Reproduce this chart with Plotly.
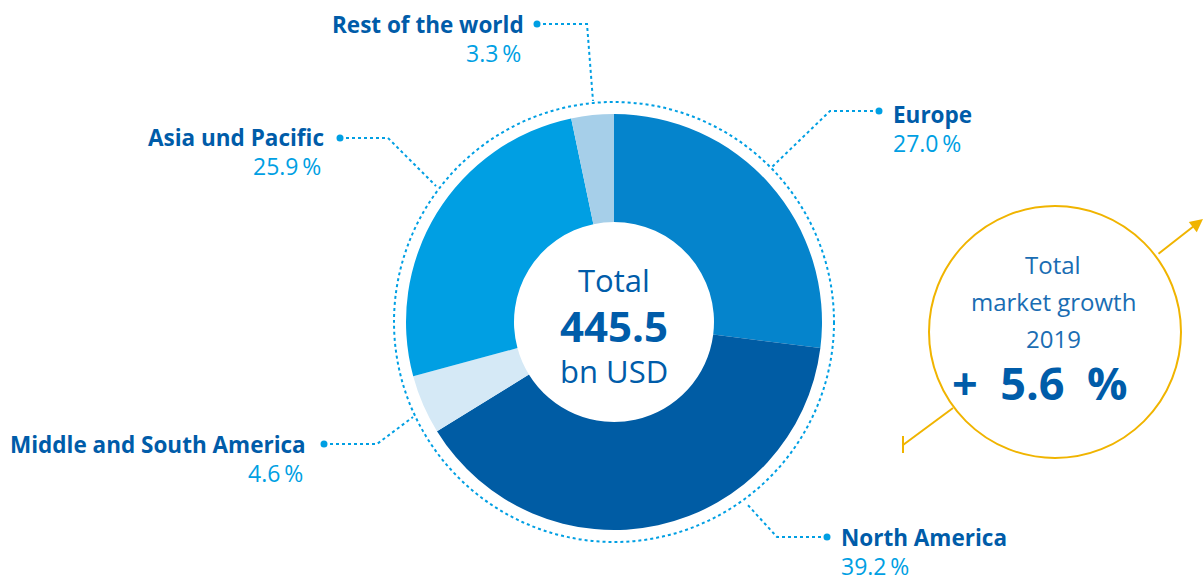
import plotly.graph_objects as go

# market shares by region, clockwise from 12 o'clock
regions = ["Europe", "North America", "Middle and South America", "Asia und Pacific", "Rest of the world"]
shares = [27.0, 39.2, 4.6, 25.9, 3.3]
colors = ["#0584cc", "#005ca4", "#d5e9f6", "#009fe3", "#a6cfe9"]

total_value = "445.5"
growth_year = "2019"
growth_value = "+\u20025.6\u2002%"

W, H = 1204, 581
cx, cy, r_out = 614, 322, 208

DARK = "#005ca9"
LIGHT = "#009fe3"
GOLD = "#f0b400"
FONT = "Open Sans"

fig = go.Figure()

fig.add_trace(go.Pie(
    labels=regions,
    values=shares,
    sort=False,
    direction="clockwise",
    rotation=0,
    hole=100 / r_out,
    marker=dict(colors=colors, line=dict(width=0)),
    textinfo="none",
    hoverinfo="label+percent",
    showlegend=False,
    domain=dict(x=[(cx - r_out) / W, (cx + r_out) / W],
                y=[(H - cy - r_out) / H, (H - cy + r_out) / H]),
))

shapes = []
# dotted ring around the donut
shapes.append(dict(type="circle", xref="x", yref="y", x0=cx - 220, x1=cx + 220,
                   y0=cy - 220, y1=cy + 220, line=dict(color=LIGHT, width=2, dash="dot")))

# leader lines, starting at the label dot
leaders = [
    [(537, 24), (587, 24), (593, 101)],
    [(879, 111), (830, 111), (772, 167)],
    [(340, 138), (388, 138), (436, 186)],
    [(324, 444), (377, 444), (413, 417)],
    [(827, 537), (777, 537), (746, 503)],
]
for pts in leaders:
    path = "M " + " L ".join(f"{x},{y}" for x, y in pts)
    shapes.append(dict(type="path", xref="x", yref="y", path=path,
                       line=dict(color=LIGHT, width=2, dash="dot")))
    x, y = pts[0]
    shapes.append(dict(type="circle", xref="x", yref="y", x0=x - 3.5, x1=x + 3.5,
                       y0=y - 3.5, y1=y + 3.5, fillcolor=LIGHT, line=dict(width=0)))

# growth circle and arrow
gx, gy, gr = 1055, 332, 126
shapes.append(dict(type="circle", xref="x", yref="y", x0=gx - gr, x1=gx + gr,
                   y0=gy - gr, y1=gy + gr, line=dict(color=GOLD, width=2)))
shapes.append(dict(type="line", xref="x", yref="y", x0=903, y0=445, x1=953, y1=408,
                   line=dict(color=GOLD, width=2)))
shapes.append(dict(type="line", xref="x", yref="y", x0=903, y0=436, x1=903, y1=453,
                   line=dict(color=GOLD, width=2)))

fig.update_layout(shapes=shapes)

ann = []
# arrow head at top right
ann.append(dict(x=1203, y=219, ax=1157, ay=255, xref="x", yref="y", axref="x", ayref="y",
                text="", showarrow=True, arrowhead=2, arrowsize=1.3, arrowwidth=2,
                arrowcolor=GOLD))

labels_pos = [
    ("Europe", 891, 114, 143, "left"),
    ("North America", 839, 537, 566, "left"),
    ("Middle and South America", 308, 444, 473, "right"),
    ("Asia und Pacific", 326, 137, 166, "right"),
    ("Rest of the world", 526, 24, 53, "right"),
]
for (name, x, y1, y2, align), share in zip(labels_pos, shares):
    ann.append(dict(x=x, y=y1, xref="x", yref="y", text=f"<b>{name}</b>", showarrow=False,
                    xanchor=align, yanchor="middle", font=dict(family=FONT, size=22.5, color=DARK)))
    ann.append(dict(x=x - (3 if align == "right" else 0), y=y2, xref="x", yref="y",
                    text=f"{share:.1f}\u2009%", showarrow=False,
                    xanchor=align, yanchor="middle", font=dict(family=FONT, size=23, color=LIGHT)))

# centre of the donut
ann.append(dict(x=cx, y=280, xref="x", yref="y", text="Total", showarrow=False,
                font=dict(family=FONT, size=31, color=DARK)))
ann.append(dict(x=cx, y=325, xref="x", yref="y", text=f"<b>{total_value}</b>", showarrow=False,
                font=dict(family=FONT, size=42, color=DARK)))
ann.append(dict(x=cx, y=371, xref="x", yref="y", text="bn USD", showarrow=False,
                font=dict(family=FONT, size=31, color=DARK)))

# growth circle text
for t, y in [("Total", 264), ("market growth", 301), (growth_year, 338)]:
    ann.append(dict(x=1053, y=y, xref="x", yref="y", text=t, showarrow=False,
                    font=dict(family=FONT, size=24, color="#1a6db3")))
ann.append(dict(x=1040, y=382, xref="x", yref="y", text=f"<b>{growth_value}</b>", showarrow=False,
                font=dict(family=FONT, size=45, color=DARK)))

fig.update_layout(
    annotations=ann,
    width=W, height=H,
    margin=dict(l=0, r=0, t=0, b=0),
    paper_bgcolor="white",
    plot_bgcolor="white",
    xaxis=dict(range=[0, W], visible=False, fixedrange=True),
    yaxis=dict(range=[H, 0], visible=False, fixedrange=True),
)

# page body has a default margin; drop it so the chart sits at the window's corner
fig.write_html("out.html", config={"displayModeBar": False},
               post_script="document.body.style.margin='0';")
